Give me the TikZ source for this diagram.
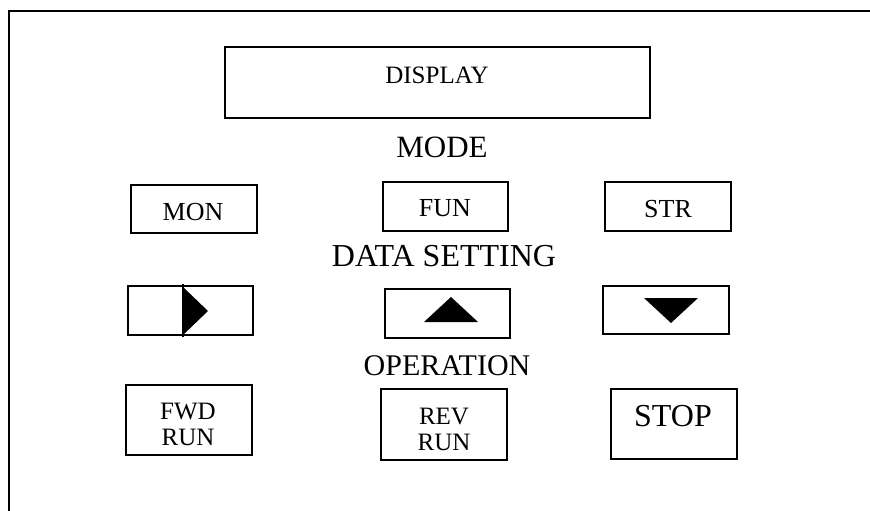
\documentclass[tikz,border=0pt]{standalone}
\usepackage{fontspec}
\setmainfont{Liberation Serif}
\newcommand{\fsz}[2]{\fontsize{#1}{#2}\selectfont}
\begin{document}
\begin{tikzpicture}[x=1pt,y=-1pt,
  key/.style={draw,line width=1.3pt,rectangle,inner sep=0pt},
  lbl/.style={inner sep=0pt,align=center}]
\useasboundingbox (0,0) rectangle (870,511);

% panel frame (top and left edges)
\draw[line width=1.8pt] (9,511) -- (9,11) -- (870,11);

% display window
\node[key,minimum width=425pt,minimum height=71pt] (disp) at (437.5,82.5) {};
\node[lbl,font=\fsz{25}{27}] (disptxt) at (437,75) {DISPLAY};

% mode keys
\node[lbl,font=\fsz{31}{33}] (mode) at (442,147) {MODE};
\node[key,minimum width=126pt,minimum height=48pt] (mon) at (194,209) {};
\node[key,minimum width=125pt,minimum height=49pt] (fun) at (445.5,206.5) {};
\node[key,minimum width=126pt,minimum height=49pt] (str) at (668,206.5) {};
\node[lbl,font=\fsz{26}{28}] (montxt) at (193,212) {MON};
\node[lbl,font=\fsz{26}{28}] (funtxt) at (445,208) {FUN};
\node[lbl,font=\fsz{26}{28}] (strtxt) at (668,209) {STR};

% data setting keys
\node[lbl,font=\fsz{32}{34}] (data) at (444,256) {DATA SETTING};
\node[key,minimum width=125pt,minimum height=49pt] (right) at (190.5,310.5) {};
\node[key,minimum width=125pt,minimum height=49pt] (up) at (447.5,313.5) {};
\node[key,minimum width=126pt,minimum height=48pt] (down) at (666,310) {};
\fill (183,287) -- (208,311) -- (183,335) -- cycle;
\draw[line width=1.2pt] (183,284) -- (183,337);
\fill (424,322) -- (451,297) -- (478,322) -- cycle;
\fill (644,298) -- (698,298) -- (671,323) -- cycle;

% operation keys
\node[lbl,font=\fsz{30}{32}] (oper) at (447,366) {OPERATION};
\node[key,minimum width=126pt,minimum height=70pt] (fwd) at (189,420) {};
\node[key,minimum width=126pt,minimum height=71pt] (rev) at (444,424.5) {};
\node[key,minimum width=126pt,minimum height=70pt] (stop) at (674,424) {};
\node[lbl,font=\fsz{25}{26}] (fwdtxt) at (188,424) {FWD\\RUN};
\node[lbl,font=\fsz{25}{26}] (revtxt) at (444,429) {REV\\RUN};
\node[lbl,font=\fsz{32}{34}] (stoptxt) at (673,416) {STOP};
\end{tikzpicture}
\end{document}
